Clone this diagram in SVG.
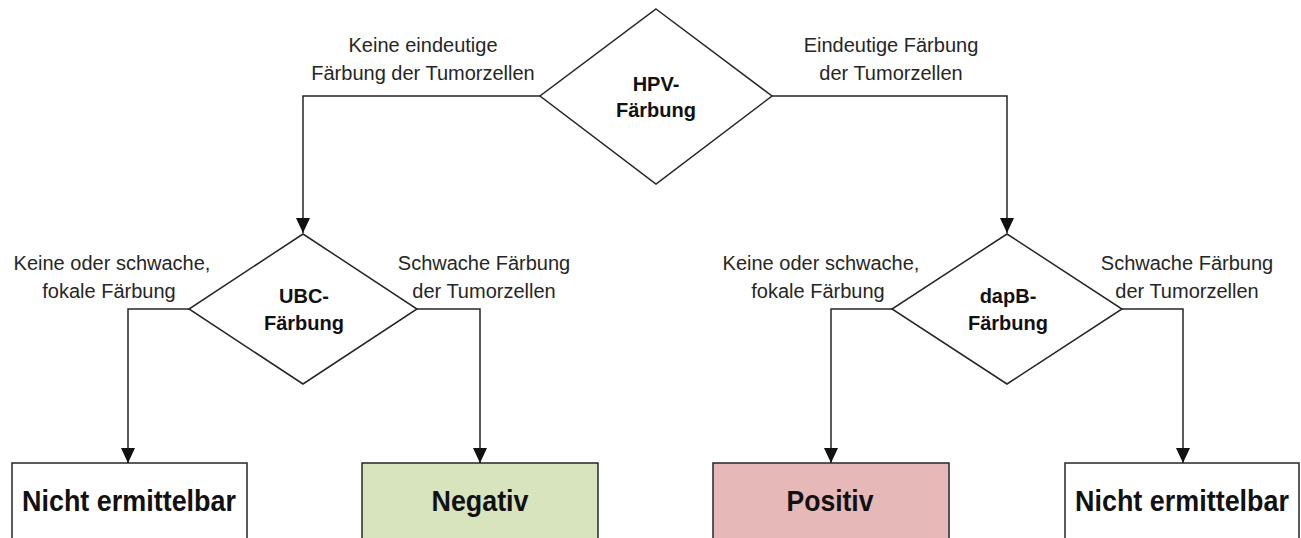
<svg xmlns="http://www.w3.org/2000/svg" width="1301" height="538" viewBox="0 0 1301 538">
  <style>
    .shape { stroke: #262626; stroke-width: 1.5; }
    .conn { fill: none; stroke: #262626; stroke-width: 1.5; }
    .lbl { font-family: "Liberation Sans", Arial, sans-serif; font-size: 20px; fill: #262626; text-anchor: middle; }
    .dtxt { font-family: "Liberation Sans", Arial, sans-serif; font-size: 20px; font-weight: bold; fill: #111; text-anchor: middle; }
    .btxt { font-family: "Liberation Sans", Arial, sans-serif; font-size: 30px; font-weight: bold; fill: #111; text-anchor: middle; }
  </style>
  <defs>
    <marker id="arr" markerUnits="userSpaceOnUse" markerWidth="15" markerHeight="14" refX="15" refY="7" orient="auto">
      <path d="M0,0 L15,7 L0,14 z" fill="#111"/>
    </marker>
  </defs>
  <rect width="1301" height="538" fill="#ffffff"/>

  <g id="connectors">
    <polyline class="conn" points="540,96 303,96 303,233" marker-end="url(#arr)"/>
    <polyline class="conn" points="772,96 1007,96 1007,233" marker-end="url(#arr)"/>
    <polyline class="conn" points="189,309 128,309 128,463" marker-end="url(#arr)"/>
    <polyline class="conn" points="417,309 480,309 480,463" marker-end="url(#arr)"/>
    <polyline class="conn" points="892,309 831,309 831,463" marker-end="url(#arr)"/>
    <polyline class="conn" points="1122,309 1183,309 1183,463" marker-end="url(#arr)"/>
  </g>

  <g id="labels">
    <text class="lbl" x="423" y="52">Keine eindeutige</text>
    <text class="lbl" x="423" y="80">Färbung der Tumorzellen</text>
    <text class="lbl" x="891" y="52">Eindeutige Färbung</text>
    <text class="lbl" x="891" y="80">der Tumorzellen</text>
    <text class="lbl" x="112" y="270">Keine oder schwache,</text>
    <text class="lbl" x="109" y="298">fokale Färbung</text>
    <text class="lbl" x="484" y="270">Schwache Färbung</text>
    <text class="lbl" x="484" y="298">der Tumorzellen</text>
    <text class="lbl" x="821" y="270">Keine oder schwache,</text>
    <text class="lbl" x="818" y="298">fokale Färbung</text>
    <text class="lbl" x="1187" y="270">Schwache Färbung</text>
    <text class="lbl" x="1187" y="298">der Tumorzellen</text>
  </g>

  <g id="hpv">
    <polygon class="shape" fill="#ffffff" points="656,9 772,96 656,184 540,96"/>
    <text class="dtxt" x="656" y="91">HPV-</text>
    <text class="dtxt" x="656" y="117">Färbung</text>
  </g>

  <g id="ubc">
    <polygon class="shape" fill="#ffffff" points="303,234 417,309 303,384 189,309"/>
    <text class="dtxt" x="304" y="303">UBC-</text>
    <text class="dtxt" x="304" y="330">Färbung</text>
  </g>

  <g id="dapb">
    <polygon class="shape" fill="#ffffff" points="1007,234 1122,309 1007,384 892,309"/>
    <text class="dtxt" x="1008" y="303">dapB-</text>
    <text class="dtxt" x="1008" y="330">Färbung</text>
  </g>

  <g id="nicht1">
    <rect class="shape" fill="#ffffff" x="12" y="463" width="235" height="100"/>
    <text class="btxt" x="129" y="511" textLength="214" lengthAdjust="spacingAndGlyphs">Nicht ermittelbar</text>
  </g>

  <g id="negativ">
    <rect class="shape" fill="#d7e4bd" x="362" y="463" width="236" height="100"/>
    <text class="btxt" x="480" y="511" textLength="97" lengthAdjust="spacingAndGlyphs">Negativ</text>
  </g>

  <g id="positiv">
    <rect class="shape" fill="#e6b9b8" x="713" y="463" width="236" height="100"/>
    <text class="btxt" x="830" y="511" textLength="87" lengthAdjust="spacingAndGlyphs">Positiv</text>
  </g>

  <g id="nicht2">
    <rect class="shape" fill="#ffffff" x="1065" y="463" width="234" height="100"/>
    <text class="btxt" x="1182" y="511" textLength="214" lengthAdjust="spacingAndGlyphs">Nicht ermittelbar</text>
  </g>
</svg>
